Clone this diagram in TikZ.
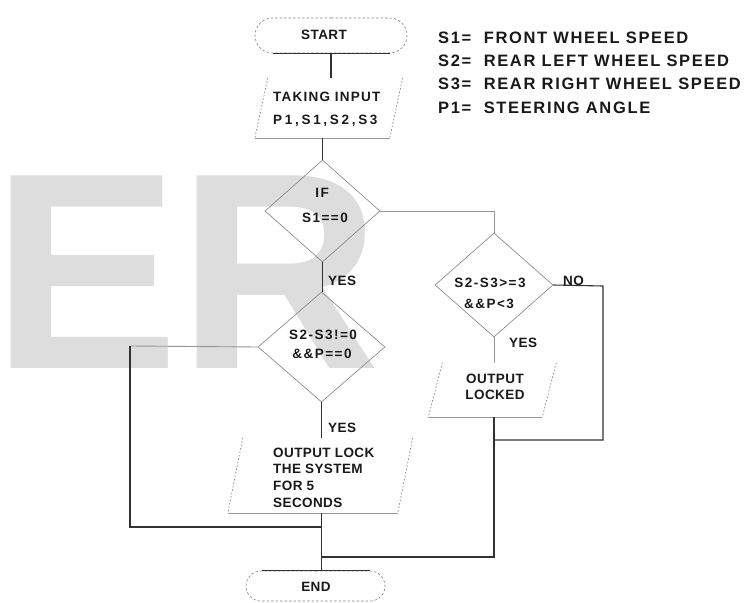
\documentclass[tikz,border=0pt]{standalone}
\usepackage{fontspec}
\setmainfont{Liberation Sans}
\newfontfamily\ffont[LetterSpace=3]{Liberation Sans}
\newfontfamily\lgfont[LetterSpace=10]{Liberation Sans}
\newfontfamily\wmfont{Liberation Sans}
\usetikzlibrary{shapes.geometric,shapes.misc,calc}
\definecolor{wm}{RGB}{221,221,221}
\definecolor{dk}{RGB}{50,50,50}
\definecolor{lt}{RGB}{150,150,150}
\definecolor{ol}{RGB}{130,130,130}
\tikzset{
 conn/.style={draw=dk,line width=1.1bp},
 connlt/.style={draw=lt,line width=0.9bp},
 term/.style={rounded rectangle, draw=ol, line width=0.6bp, dash pattern=on 2.5bp off 2bp, inner sep=0},
 dia/.style={diamond, draw=ol, line width=0.6bp, inner sep=0},
 pbox/.style={rectangle, inner sep=0},
 side/.style={draw=ol, line width=0.7bp, dash pattern=on 1.5bp off 2bp},
 bottomlt/.style={draw=lt,line width=0.8bp},
 ftext/.style={font=\ffont\bfseries\fontsize{13.5bp}{22bp}\selectfont, text=black!90, inner sep=0},
 dtext/.style={ftext, anchor=base, font=\ffont\bfseries\fontsize{13.5bp}{22bp}\selectfont\addfontfeatures{LetterSpace=11}},
 lgtext/.style={font=\lgfont\bfseries\fontsize{16.5bp}{20bp}\selectfont, text=black!90, inner sep=0, anchor=base west},
 lbl/.style={ftext, anchor=base west},
}
\begin{document}
\begin{tikzpicture}[x=1bp,y=-1bp]
\useasboundingbox (0,0) rectangle (753,603);
\fill[white] (0,0) rectangle (753,603);
% watermark
\node[font=\wmfont\bfseries\fontsize{280bp}{280bp}\selectfont, text=wm, anchor=base west, inner sep=0] (wmark) at (0,368) {\hspace*{-8bp}ER};

% coordinates for connector bends
\coordinate (lft) at (130,346);
\coordinate (j1) at (322,527);
\coordinate (j2) at (322,557);
\coordinate (rgt) at (603,286);
\coordinate (rb) at (603,440);

% START
\node[term, minimum width=152bp, minimum height=35bp] (start) at (331,35.5) {};
\draw[conn] ($(start.south)+(-58.5,0)$) -- ($(start.south)+(58.5,0)$);
\node[ftext, anchor=base] (startt) at (324,40) {START};

% input
\node[pbox, minimum width=134.5bp, minimum height=60bp] (in1) at (328.75,108) {};
\draw[side] ($(in1.north west)+(6.5,0)$) -- ($(in1.south west)+(-6.5,0)$);
\draw[side] ($(in1.north east)+(6.5,0)$) -- ($(in1.south east)+(-6.5,0)$);
\draw[bottomlt] ($(in1.south west)+(-6.5,0)$) -- ($(in1.south east)+(-6.5,0)$);
\node[lbl] (in1a) at (273,102) {\addfontfeatures{LetterSpace=9}TAKING INPUT};
\node[lbl] (in1b) at (273,125) {\addfontfeatures{LetterSpace=20}P1,S1,S2,S3};

% diamond 1
\node[dia, minimum width=115bp, minimum height=102bp] (d1) at (322.5,211) {};
\node[dtext] (d1a) at (322,198) {IF};
\node[dtext] (d1b) at (325,223) {S1==0};

% diamond 2
\node[dia, minimum width=127bp, minimum height=110bp] (d2) at (321.5,347) {};
\node[dtext] (d2a) at (323,339) {S2-S3!=0};
\node[dtext] (d2b) at (322,358) {\&\&P==0};

% diamond 3
\node[dia, minimum width=118bp, minimum height=104bp] (d3) at (494,285) {};
\node[dtext] (d3a) at (490,287) {S2-S3>=3};
\node[dtext] (d3b) at (489,308) {\&\&P<3};

% output lock
\node[pbox, minimum width=169.5bp, minimum height=75bp] (out1) at (320.25,475.5) {};
\draw[side] ($(out1.north west)+(7.5,0)$) -- ($(out1.south west)+(-7.5,0)$);
\draw[side] ($(out1.north east)+(7.5,0)$) -- ($(out1.south east)+(-7.5,0)$);
\draw[bottomlt] ($(out1.south west)+(-7.5,0)$) -- ($(out1.south east)+(-7.5,0)$);
\node[lbl] (o1a) at (273,457) {OUTPUT LOCK};
\node[lbl] (o1b) at (273,473) {THE SYSTEM};
\node[lbl] (o1c) at (273,490) {FOR 5};
\node[lbl] (o1d) at (273,507) {SECONDS};

% output locked
\node[pbox, minimum width=113.5bp, minimum height=54bp] (out2) at (492.25,390) {};
\draw[side] ($(out2.north west)+(7,0)$) -- ($(out2.south west)+(-7,0)$);
\draw[side] ($(out2.north east)+(7,0)$) -- ($(out2.south east)+(-7,0)$);
\draw[bottomlt] ($(out2.south west)+(-7,0)$) -- ($(out2.south east)+(-7,0)$);
\node[ftext, anchor=base] (o2a) at (495,383) {OUTPUT};
\node[ftext, anchor=base] (o2b) at (495,399) {LOCKED};

% END
\node[term, minimum width=139bp, minimum height=30bp] (end) at (315.5,586) {};
\draw[conn] ($(end.north)+(-54,0)$) -- ($(end.north)+(54,0)$);
\node[ftext, anchor=base] (endt) at (316,591) {END};

% connectors
\draw[conn] (start.south) -- (start.south |- in1.north);
\draw[conn] (d1.north |- in1.south) -- (d1.north);
\draw[conn] (d1.south) -- (d1.south |- d2.north);
\draw[connlt] (d1.east) -| (d3.north);
\draw[conn] (d2.south) -- (d2.south |- out1.north);
\draw[connlt] (d2.west) -- (lft);
\draw[conn] (lft) -- (lft |- j1) -- (j1);
\draw[conn] (d2.south |- out1.south) -- (d2.south |- end.north);
\draw[connlt] (d3.south) -- (d3.south |- out2.north);
\draw[conn] (d3.south |- out2.south) -- (d3.south |- j2) -- (j2);
\draw[conn] (d3.east) -- (rgt) -- (rb) -- (rb -| d3.south);

% branch labels
\node[lbl] (yes1) at (328,285) {YES};
\node[lbl] (yes2) at (328,432) {YES};
\node[lbl] (yes3) at (509,347) {YES};
\node[lbl] (no3) at (563,285) {NO};

% legend
\node[lgtext] (lg1) at (438,44) {S1=\ \ FRONT WHEEL SPEED};
\node[lgtext] (lg2) at (438,67) {S2=\ \ REAR LEFT WHEEL SPEED};
\node[lgtext] (lg3) at (438,90) {S3=\ \ REAR RIGHT WHEEL SPEED};
\node[lgtext] (lg4) at (438,114) {P1=\ \ STEERING ANGLE};
\end{tikzpicture}
\end{document}
